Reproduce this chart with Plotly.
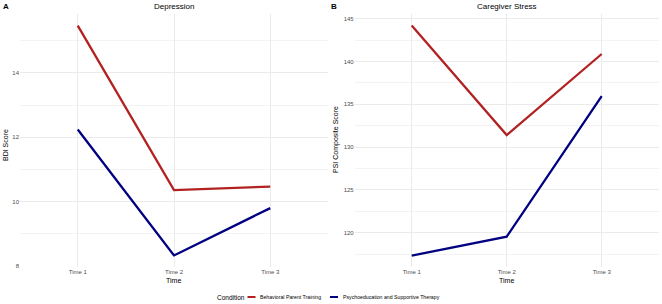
import plotly.graph_objects as go

times = ["Time 1", "Time 2", "Time 3"]
conditions = ["Behavioral Parent Training", "Psychoeducation and Supportive Therapy"]
colors = ["#B22222", "#000080"]

bdi_bpt = [15.47, 10.36, 10.47]
bdi_pst = [12.24, 8.33, 9.80]
psi_bpt = [144.2, 131.4, 140.87]
psi_pst = [117.33, 119.55, 135.95]

FONT = "Liberation Sans, Arial, sans-serif"
W, H = 662, 304

fig = go.Figure()
for name, col, vals in zip(conditions, colors, [bdi_bpt, bdi_pst]):
    fig.add_trace(go.Scatter(x=times, y=vals, mode="lines", name=name,
                             line=dict(color=col, width=2.3), xaxis="x", yaxis="y",
                             showlegend=False))
for name, col, vals in zip(conditions, colors, [psi_bpt, psi_pst]):
    fig.add_trace(go.Scatter(x=times, y=vals, mode="lines", name=name,
                             line=dict(color=col, width=2.3), xaxis="x2", yaxis="y2",
                             showlegend=False))

grid = "#EBEBEB"
tickfont = dict(family=FONT, size=6, color="#4D4D4D")
ydom = [1 - 267 / H, 1 - 14 / H]

def yaxis_common(rng, dtick, minor_dtick, tick0, anchor):
    return dict(range=rng, dtick=dtick, tick0=tick0, showgrid=True, gridcolor=grid, gridwidth=0.8,
                zeroline=False, showline=False, ticks="", tickfont=tickfont, domain=ydom,
                anchor=anchor,
                minor=dict(showgrid=True, dtick=minor_dtick, tick0=tick0 + minor_dtick,
                           gridcolor="#F3F3F3", gridwidth=0.5))

fig.update_layout(
    width=W, height=H,
    margin=dict(l=0, r=0, t=0, b=0, autoexpand=False),
    paper_bgcolor="white", plot_bgcolor="white",
    font=dict(family=FONT, color="black"),
    showlegend=False,
    xaxis=dict(domain=[20 / W, 328 / W], range=[-0.6, 2.6], showgrid=True, gridcolor=grid,
               gridwidth=0.8, zeroline=False, showline=False, ticks="", tickfont=tickfont,
               anchor="y", type="category"),
    xaxis2=dict(domain=[354.7 / W, 658.7 / W], range=[-0.6, 2.6], showgrid=True, gridcolor=grid,
                gridwidth=0.8, zeroline=False, showline=False, ticks="", tickfont=tickfont,
                anchor="y2", type="category"),
    yaxis=yaxis_common([7.97, 15.83], 2, 1, 8, "x"),
    yaxis2=yaxis_common([116.0, 145.54], 5, 2.5, 120, "x2"),
    hovermode=False,
)

def px_x(v):
    return v / W

def px_y(v):
    return 1 - v / H

ann = [
    dict(text="Depression", x=174, y=7, size=8),
    dict(text="Caregiver Stress", x=506.7, y=7, size=8),
    dict(text="<b>A</b>", x=6, y=7, size=8),
    dict(text="<b>B</b>", x=334, y=7, size=8),
    dict(text="Time", x=174, y=280, size=7),
    dict(text="Time", x=506.7, y=280, size=7),
]
for a in ann:
    fig.add_annotation(text=a["text"], x=px_x(a["x"]), y=px_y(a["y"]), xref="paper", yref="paper",
                       showarrow=False, xanchor="center", yanchor="middle",
                       font=dict(family=FONT, size=a["size"], color="black"))
fig.add_annotation(text="BDI Score", x=px_x(5), y=px_y(145), xref="paper", yref="paper",
                   showarrow=False, textangle=-90, xanchor="center", yanchor="middle",
                   font=dict(family=FONT, size=7, color="black"))
fig.add_annotation(text="PSI Composite Score", x=px_x(336), y=px_y(140), xref="paper", yref="paper",
                   showarrow=False, textangle=-90, xanchor="center", yanchor="middle",
                   font=dict(family=FONT, size=7, color="black"))

# Legend (drawn manually, ggplot-style bottom legend)
LEG_Y = 297
fig.add_annotation(text="Condition", x=px_x(245.5), y=px_y(LEG_Y), xref="paper", yref="paper",
                   showarrow=False, xanchor="right", yanchor="middle", borderpad=0,
                   font=dict(family=FONT, size=6.5, color="black"))
for (x0, x1, tx), name, col in zip([(247.5, 255.5, 258.5), (330, 338, 342)], conditions, colors):
    fig.add_shape(type="line", xref="paper", yref="paper", x0=px_x(x0), x1=px_x(x1),
                  y0=px_y(LEG_Y), y1=px_y(LEG_Y), line=dict(color=col, width=2))
    fig.add_annotation(text=name, x=px_x(tx), y=px_y(LEG_Y), xref="paper", yref="paper",
                       showarrow=False, xanchor="left", yanchor="middle", borderpad=0,
                       font=dict(family=FONT, size=5.2, color="black"))

fig.write_html("out.html", config={"displayModeBar": False},
               post_script="document.body.style.margin='0';document.body.style.overflow='hidden';")
